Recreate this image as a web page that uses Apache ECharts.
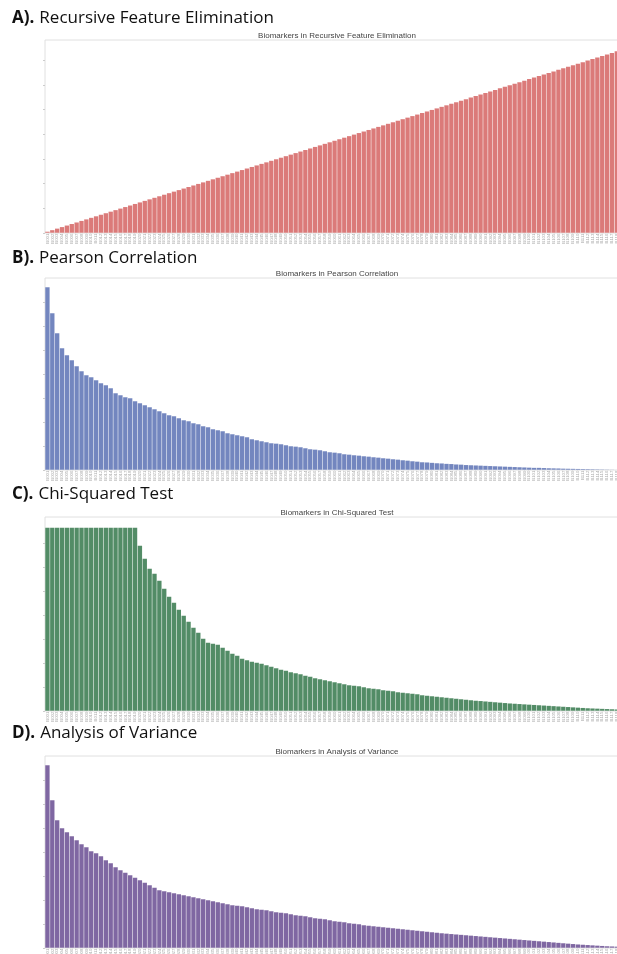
<!DOCTYPE html>
<html><head><meta charset="utf-8">
<script src="https://cdn.jsdelivr.net/npm/echarts@6/dist/echarts.min.js"></script>
<style>html,body{margin:0;padding:0;background:#fff}#c{width:617px;height:954px}</style>
</head><body><div id="c"></div>
<script>
// ---- data ----
const rfeValues = [1,2,3,4,5,6,7,8,9,10,11,12,13,14,15,16,17,18,19,20,21,22,23,24,25,26,27,28,29,30,
31,32,33,34,35,36,37,38,39,40,41,42,43,44,45,46,47,48,49,50,51,52,53,54,55,56,57,58,59,60,
61,62,63,64,65,66,67,68,69,70,71,72,73,74,75,76,77,78,79,80,81,82,83,84,85,86,87,88,89,90,
91,92,93,94,95,96,97,98,99,100,101,102,103,104,105,106,107,108,109,110,111,112,113,114,115,116,117,118,119,120];
const pearsonValues = [0.915,0.785,0.685,0.61,0.575,0.55,0.52,0.495,0.475,0.465,
0.45,0.435,0.425,0.41,0.385,0.375,0.365,0.36,0.345,0.335,
0.325,0.315,0.305,0.295,0.285,0.275,0.27,0.26,0.25,0.245,
0.235,0.23,0.22,0.215,0.205,0.2,0.195,0.185,0.18,0.175,
0.17,0.165,0.155,0.15,0.145,0.14,0.135,0.133,0.13,0.125,
0.12,0.118,0.115,0.11,0.105,0.103,0.1,0.095,0.09,0.088,
0.085,0.08,0.078,0.075,0.073,0.07,0.068,0.065,0.063,0.06,
0.058,0.055,0.053,0.05,0.048,0.045,0.043,0.04,0.039,0.037,
0.035,0.034,0.032,0.031,0.029,0.028,0.026,0.025,0.024,0.023,
0.022,0.021,0.02,0.019,0.018,0.017,0.016,0.015,0.014,0.013,
0.012,0.012,0.011,0.01,0.0095,0.009,0.008,0.0075,0.007,0.0065,
0.006,0.0055,0.005,0.0045,0.004,0.0035,0.003,0.0025,0.002,0.0015];
const chiValues = [183.5,183.5,183.5,183.5,183.5,183.5,183.5,183.5,183.5,183.5,
183.5,183.5,183.5,183.5,183.5,183.5,183.5,183.5,183.5,
165.5,152.5,142.5,137.5,130.5,122.5,114.5,108.5,101.5,95.5,89.5,
83.5,78.5,72.5,68.5,67.5,66.5,63.5,60.5,57.5,55.5,
52.5,51,49.5,48.5,47.5,46,44.5,43,41.5,40.5,
39,38,37,35.5,34.5,33,32,31,30,29,28,
27,26,25.5,25,24,23,22.5,22,
21,20.5,20,19,18.5,18,17.5,17,
16,15.5,15,14.5,14,13.5,13,12.5,12,
11.5,11,10.5,10.2,9.8,9.4,9,8.6,8.2,7.8,
7.5,7.2,6.9,6.6,6.3,6.0,5.7,5.4,5.1,4.8,
4.5,4.2,3.9,3.6,3.3,3.0,2.8,2.6,2.4,2.2,2.0,1.8,1.6,1.4];
const anovaValues = [183,148,128,120,116,112,108,104,101,97,
95,92,88,85,81,78,75.5,73,70.5,68,
65.5,63,60.5,58,57,56,55,54,53,52,51,50,
49,48,47,46,45,44,43,42.5,42,41,
40,39,38.5,38,37,36,35.5,35,34,33,
32.5,32,31,30,29.5,29,28,27,26.5,26,
25,24.5,24,23,22.5,22,21.5,21,20.5,20,
19.5,19,18.5,18,17.5,17,16.5,16,15.5,15,
14.6,14.2,13.8,13.4,13,12.6,12.2,11.8,11.4,11,
10.6,10.2,9.8,9.4,9,8.6,8.2,7.8,7.4,7,
6.6,6.2,5.8,5.4,5,4.6,4.2,3.8,3.5,3.2,
2.9,2.6,2.3,2.0,1.8,1.6,1.4,1.2];
const panelLetters = ['A).','B).','C).','D).'];
const panelNames = ['Recursive Feature Elimination','Pearson Correlation','Chi-Squared Test','Analysis of Variance'];
const chartTitles = ['Biomarkers in Recursive Feature Elimination','Biomarkers in Pearson Correlation','Biomarkers in Chi-Squared Test','Biomarkers in Analysis of Variance'];
const yMaxes = [125.2, 0.96, 194, 192];
const yTickValues = [
  [0,16,32,48,64,80,96,112],
  [0,0.12,0.24,0.36,0.48,0.6,0.72,0.84],
  [0,24,48,72,96,120,144,168],
  [0,24,48,72,96,120,144,168]
];
const seriesValues = [rfeValues, pearsonValues, chiValues, anovaValues];

// ---- layout / style ----
const colors = ['#db7a79','#7386bf','#528c66','#7f67a2'];
const gridTops = [40, 278, 517, 756];
const gridHeights = [193, 192, 194, 192];
const headerTops = [9.5, 249, 485.5, 724.5];
const subTops = [31.5, 269.5, 508.5, 747.5];

const chart = echarts.init(document.getElementById('c'), null, {renderer:'canvas'});
const titles = [], grids = [], xAxes = [], yAxes = [], series = [];
for (let p = 0; p < 4; p++) {
  const vals = seriesValues[p];
  const cats = vals.map((v, i) => 'B' + String(i + 1).padStart(3, '0'));
  titles.push({
    text: '{b|' + panelLetters[p] + '} {n|' + panelNames[p] + '}',
    left: 12, top: headerTops[p], padding: 0,
    textStyle: { rich: {
      b: { fontFamily: 'Open Sans', fontWeight: 'bold', fontSize: 17, color: '#111' },
      n: { fontFamily: 'Open Sans', fontWeight: 'normal', fontSize: 17, color: '#111' }
    } }
  });
  titles.push({
    text: chartTitles[p], left: 337, top: subTops[p], padding: 0, textAlign: 'center',
    textStyle: { fontFamily: 'Liberation Sans', fontSize: 8, fontWeight: 'normal', color: '#444' }
  });
  grids.push({ left: 45, width: 584, top: gridTops[p], height: gridHeights[p], show: true,
    outerBoundsMode: 'none', containLabel: false,
    borderColor: '#e0e0e0', borderWidth: 1, backgroundColor: 'transparent' });
  xAxes.push({ type: 'category', gridIndex: p, data: cats,
    axisLine: { show: false }, axisTick: { show: false },
    axisLabel: { interval: 0, rotate: 90, fontSize: 4.4, color: '#ababab', margin: 0.5,
      fontFamily: 'Liberation Sans' } });
  yAxes.push({ type: 'value', gridIndex: p, min: 0, max: yMaxes[p],
    axisLine: { show: false }, splitLine: { show: false },
    axisTick: { show: true, length: 2, customValues: yTickValues[p], lineStyle: { color: '#cccccc', width: 1 } },
    axisLabel: { show: false } });
  series.push({ type: 'bar', xAxisIndex: p, yAxisIndex: p, data: vals, barCategoryGap: '0%',
    itemStyle: { color: colors[p], borderColor: 'rgba(255,255,255,0.07)', borderWidth: 0.5 },
    animation: false, silent: true });
}
chart.setOption({ animation: false, backgroundColor: '#fff', title: titles, grid: grids,
  xAxis: xAxes, yAxis: yAxes, series: series });
</script></body></html>
